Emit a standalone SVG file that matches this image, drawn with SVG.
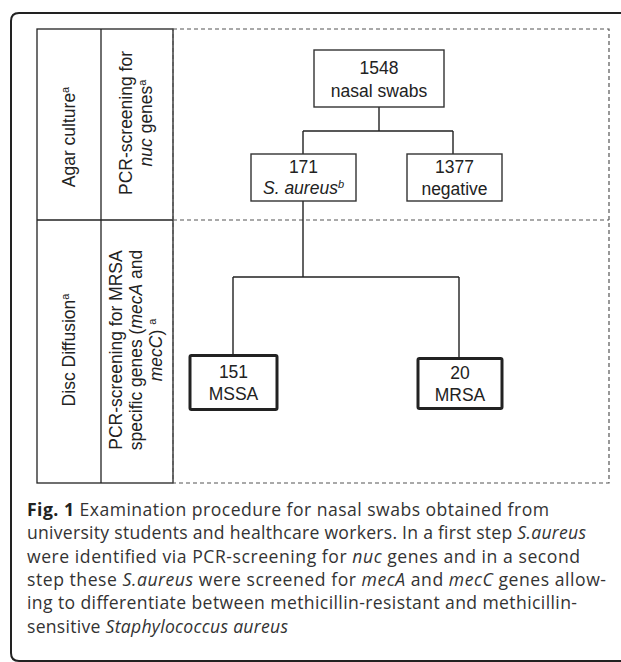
<svg xmlns="http://www.w3.org/2000/svg" width="621" height="662" viewBox="0 0 621 662">
<style>
.frame{fill:none;stroke:#222;stroke-width:2}
.tbl{fill:none;stroke:#222;stroke-width:1.3}
.dash{fill:none;stroke:#555;stroke-width:1.2;stroke-dasharray:4 3}
.box{fill:#fff;stroke:#333;stroke-width:1.4}
.bold{fill:#fff;stroke:#222;stroke-width:3}
.conn{fill:none;stroke:#222;stroke-width:1.4}
.lbl{font-family:"Liberation Sans",Arial,sans-serif;font-size:17.5px;fill:#222;text-anchor:middle}
.side{font-family:"Liberation Sans",Arial,sans-serif;font-size:17.5px;fill:#222;text-anchor:middle}
.sup{font-size:11px}
.cap{font-family:"Open Sans","Noto Sans",sans-serif;font-size:17.6px;fill:#333}
</style>
<path class="frame" d="M621 13 H19 Q11 13 11 21 V653 Q11 661 19 661 H621"/>
<g id="table">
<rect class="tbl" x="37" y="29" width="136" height="454"/>
<line class="tbl" x1="101" y1="29" x2="101" y2="483"/>
<line class="tbl" x1="37" y1="220" x2="173" y2="220"/>
</g>
<g id="stages">
<rect class="dash" x="173" y="29" width="436" height="454"/>
<line class="dash" x1="173" y1="220" x2="609" y2="220"/>
</g>
<g id="row-labels">
<text class="side" transform="translate(75,137) rotate(-90)">Agar culture<tspan class="sup" dy="-6">a</tspan></text>
<text class="side" transform="translate(132,123) rotate(-90)">PCR-screening for<tspan x="0" dy="19.5"><tspan font-style="italic">nuc</tspan> genes<tspan class="sup" dy="-6">a</tspan></tspan></text>
<text class="side" transform="translate(75,350) rotate(-90)">Disc Diffusion<tspan class="sup" dy="-6">a</tspan></text>
<text class="side" transform="translate(122,350) rotate(-90)">PCR-screening for MRSA<tspan x="0" dy="20">specific genes (<tspan font-style="italic">mecA</tspan> and</tspan><tspan x="0" dy="20"><tspan font-style="italic">mecC</tspan>) <tspan class="sup" dy="-6">a</tspan></tspan></text>
</g>
<g id="connectors">
<path class="conn" d="M379 107 V131 M303 131 H453 M303 131 V154 M453 131 V154"/>
<path class="conn" d="M303 201 V277 M233 277 H459 M233 277 V355 M459 277 V358"/>
</g>
<g id="n1548">
<rect class="box" x="314" y="50" width="130" height="57"/>
<text class="lbl" x="379" y="74">1548</text>
<text class="lbl" x="379" y="97">nasal swabs</text>
</g>
<g id="n171">
<rect class="box" x="251" y="154" width="105" height="47"/>
<text class="lbl" x="303.5" y="173">171</text>
<text class="lbl" x="303.5" y="194"><tspan font-style="italic">S. aureus</tspan><tspan class="sup" font-style="italic" dy="-6">b</tspan></text>
</g>
<g id="n1377">
<rect class="box" x="407" y="154" width="95" height="47"/>
<text class="lbl" x="454.5" y="173">1377</text>
<text class="lbl" x="454.5" y="195">negative</text>
</g>
<g id="nMSSA">
<rect class="bold" x="190" y="355.5" width="87" height="54" rx="1.5"/>
<text class="lbl" x="233.5" y="378">151</text>
<text class="lbl" x="233.5" y="400">MSSA</text>
</g>
<g id="nMRSA">
<rect class="bold" x="418" y="358.5" width="84" height="50" rx="1.5"/>
<text class="lbl" x="460" y="379">20</text>
<text class="lbl" x="460" y="401">MRSA</text>
</g>
<g id="caption">
<text class="cap" x="27" y="516" textLength="522" lengthAdjust="spacing"><tspan font-weight="bold" fill="#222">Fig. 1</tspan> Examination procedure for nasal swabs obtained from</text>
<text class="cap" x="27" y="539" textLength="559" lengthAdjust="spacing">university students and healthcare workers. In a first step <tspan font-style="italic">S.aureus</tspan></text>
<text class="cap" x="27" y="563" textLength="553" lengthAdjust="spacing">were identified via PCR-screening for <tspan font-style="italic">nuc</tspan> genes and in a second</text>
<text class="cap" x="27" y="586" textLength="579" lengthAdjust="spacing">step these <tspan font-style="italic">S.aureus</tspan> were screened for <tspan font-style="italic">mecA</tspan> and <tspan font-style="italic">mecC</tspan> genes allow-</text>
<text class="cap" x="27" y="609" textLength="550" lengthAdjust="spacing">ing to differentiate between methicillin-resistant and methicillin-</text>
<text class="cap" x="27" y="633" textLength="261" lengthAdjust="spacing">sensitive <tspan font-style="italic">Staphylococcus aureus</tspan></text>
</g>
</svg>
